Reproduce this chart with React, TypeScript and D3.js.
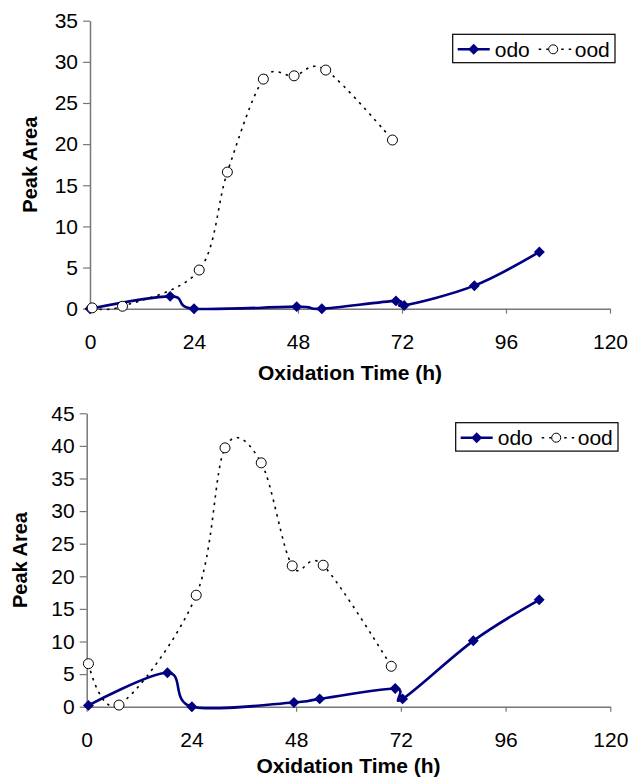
import React, { useRef, useEffect } from "react";
import * as d3 from "d3";

// (hours, peak area)
const odoTopHours = [0, 18.5, 24, 47.7, 53.5, 70.6, 72.5, 88.7, 103.7];
const odoTopArea = [0, 1.5, 0, 0.25, 0, 0.95, 0.4, 2.8, 6.9];
const oodTopHours = [0.5, 7.5, 25.2, 31.7, 40, 47.1, 54.4, 69.8];
const oodTopArea = [0.1, 0.3, 4.7, 16.6, 27.9, 28.3, 29.0, 20.5];

const odoBottomHours = [0.4, 18.5, 24.1, 47.5, 53.4, 70.7, 72.4, 88.6, 103.7];
const odoBottomArea = [0.2, 5.2, 0, 0.65, 1.2, 2.8, 1.2, 10.1, 16.4];
const oodBottomHours = [0.4, 7.4, 25.1, 31.7, 40.0, 47.1, 54.2, 69.8];
const oodBottomArea = [6.6, 0.25, 17.1, 39.7, 37.4, 21.6, 21.7, 6.2];

const xTicks = [0, 24, 48, 72, 96, 120];
const topYTicks = [0, 5, 10, 15, 20, 25, 30, 35];
const bottomYTicks = [0, 5, 10, 15, 20, 25, 30, 35, 40, 45];

const seriesNames = ["odo", "ood"];

const FONT = "'Liberation Sans', Arial, Helvetica, sans-serif";
const NAVY = "#000080";
const AXIS = "#777";
const DOTS = "2.5,5";

type Panel = {
  left: number;
  right: number;
  top: number;
  bottom: number;
  yMax: number;
  yTicks: number[];
  odo: [number, number][];
  ood: [number, number][];
  yTitleX: number;
  xTitleY: number;
  legendX: number;
  legendY: number;
};

const zip = (a: number[], b: number[]) => a.map((v, i) => [v, b[i]] as [number, number]);

const panels: Panel[] = [
  {
    left: 90, right: 610, top: 20.7, bottom: 308.7,
    yMax: 35, yTicks: topYTicks,
    odo: zip(odoTopHours, odoTopArea),
    ood: zip(oodTopHours, oodTopArea),
    yTitleX: 36.5, xTitleY: 379.5,
    legendX: 452.7, legendY: 34.3,
  },
  {
    left: 86.7, right: 610.3, top: 413.3, bottom: 706.7,
    yMax: 45, yTicks: bottomYTicks,
    odo: zip(odoBottomHours, odoBottomArea),
    ood: zip(oodBottomHours, oodBottomArea),
    yTitleX: 26.5, xTitleY: 773,
    legendX: 455.7, legendY: 422.7,
  },
];

function drawPanel(svg: d3.Selection<SVGSVGElement, unknown, null, undefined>, p: Panel) {
  const x = d3.scaleLinear().domain([0, 120]).range([p.left, p.right]);
  const y = d3.scaleLinear().domain([0, p.yMax]).range([p.bottom, p.top]);
  const g = svg.append("g");

  // axes
  const yAxis = g
    .append("g")
    .attr("transform", `translate(${p.left},0)`)
    .call(d3.axisLeft(y).tickValues(p.yTicks).tickSize(7).tickSizeOuter(0).tickPadding(5));
  const xAxis = g
    .append("g")
    .attr("transform", `translate(0,${p.bottom})`)
    .call(d3.axisBottom(x).tickValues(xTicks).tickSize(5).tickSizeOuter(0).tickPadding(20));
  [yAxis, xAxis].forEach((a) => {
    a.select(".domain").attr("stroke", AXIS).attr("stroke-width", 1.5);
    a.selectAll(".tick line").attr("stroke", AXIS).attr("stroke-width", 1.2);
    a.selectAll("text").attr("fill", "#000").style("font-family", FONT).style("font-size", "21px");
  });

  // titles
  g.append("text")
    .attr("transform", `translate(${p.yTitleX},${(p.top + p.bottom) / 2}) rotate(-90)`)
    .attr("text-anchor", "middle")
    .style("font-family", FONT)
    .style("font-size", "20px")
    .style("font-weight", "bold")
    .text("Peak Area");
  g.append("text")
    .attr("x", (p.left + p.right) / 2)
    .attr("y", p.xTitleY)
    .attr("text-anchor", "middle")
    .style("font-family", FONT)
    .style("font-size", "21px")
    .style("font-weight", "bold")
    .text("Oxidation Time (h)");

  // smoothed lines like the spreadsheet's
  const line = d3
    .line<[number, number]>()
    .x((d) => x(d[0]))
    .y((d) => y(d[1]))
    .curve(d3.curveCardinal.tension(0));

  const diamond = d3.symbol().type(d3.symbolSquare).size(60);

  g.append("path")
    .attr("d", line(p.odo))
    .attr("fill", "none")
    .attr("stroke", NAVY)
    .attr("stroke-width", 2.6);
  g.append("g")
    .selectAll("path")
    .data(p.odo)
    .join("path")
    .attr("d", diamond)
    .attr("transform", (d) => `translate(${x(d[0])},${y(d[1])}) rotate(45)`)
    .attr("fill", NAVY);

  g.append("path")
    .attr("d", line(p.ood))
    .attr("fill", "none")
    .attr("stroke", "#000")
    .attr("stroke-width", 1.6)
    .attr("stroke-dasharray", DOTS);
  g.append("g")
    .selectAll("circle")
    .data(p.ood)
    .join("circle")
    .attr("cx", (d) => x(d[0]))
    .attr("cy", (d) => y(d[1]))
    .attr("r", 5)
    .attr("fill", "#fff")
    .attr("stroke", "#000")
    .attr("stroke-width", 1);

  // legend
  const lg = g.append("g").attr("transform", `translate(${p.legendX},${p.legendY})`);
  lg.append("rect")
    .attr("width", 162.3)
    .attr("height", 28.4)
    .attr("fill", "#fff")
    .attr("stroke", "#000")
    .attr("stroke-width", 1.2);
  const cy = 15;
  lg.append("line")
    .attr("x1", 5).attr("x2", 37).attr("y1", cy).attr("y2", cy)
    .attr("stroke", NAVY).attr("stroke-width", 2.6);
  lg.append("path").attr("d", diamond).attr("transform", `translate(21,${cy}) rotate(45)`).attr("fill", NAVY);
  lg.append("line")
    .attr("x1", 86).attr("x2", 119).attr("y1", cy).attr("y2", cy)
    .attr("stroke", "#000").attr("stroke-width", 1.6).attr("stroke-dasharray", DOTS);
  lg.append("circle")
    .attr("cx", 100.5).attr("cy", cy).attr("r", 4.5)
    .attr("fill", "#fff").attr("stroke", "#000");
  seriesNames.forEach((name, i) => {
    lg.append("text")
      .attr("x", i === 0 ? 42 : 122)
      .attr("y", cy + 7.5)
      .style("font-family", FONT)
      .style("font-size", "21px")
      .text(name);
  });
}

export default function App() {
  const svgRef = useRef<SVGSVGElement>(null);

  useEffect(() => {
    const svg = d3.select(svgRef.current as SVGSVGElement);
    svg.selectAll("*").remove();
    panels.forEach((p) => drawPanel(svg, p));
    return () => {
      svg.selectAll("*").remove();
    };
  }, []);

  return (
    <svg
      ref={svgRef}
      width={629}
      height={777}
      style={{ position: "absolute", left: 0, top: 0, background: "#fff" }}
    />
  );
}
